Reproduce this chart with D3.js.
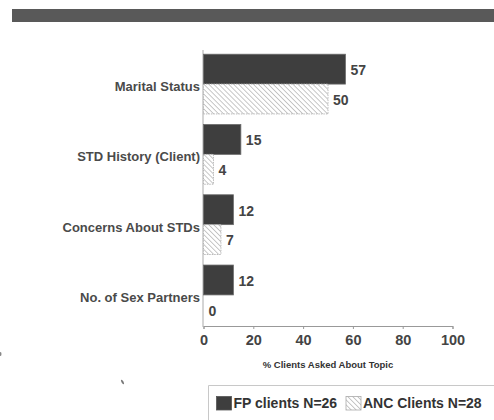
<!DOCTYPE html>
<html>
<head>
<meta charset="utf-8">
<script src="https://cdn.jsdelivr.net/npm/d3@7"></script>
<style>
  html, body { margin: 0; padding: 0; background: #fff; }
  svg { display: block; font-family: "Liberation Sans", Arial, sans-serif; }
</style>
</head>
<body>
<svg id="chart" width="494" height="420"></svg>
<script>
// topics asked about, top to bottom
const topics = ['Marital Status', 'STD History (Client)', 'Concerns About STDs', 'No. of Sex Partners'];
const seriesKeys = ['fp', 'anc'];
const seriesNames = ['FP clients N=26', 'ANC Clients N=28'];
const fpValues = [57, 15, 12, 12];
const ancValues = [50, 4, 7, 0];
const xTicks = [0, 20, 40, 60, 80, 100];

const rows = topics.map(function(t, i){
    return {topic: t, fp: fpValues[i], anc: ancValues[i]};
});

const svg = d3.select('#chart');

// dark header band
svg.append('rect')
    .attr('x', 12).attr('y', 9)
    .attr('width', 482).attr('height', 13)
    .attr('fill', '#595959');

const defs = svg.append('defs');
const hatch = defs.append('pattern')
    .attr('id', 'hatch')
    .attr('patternUnits', 'userSpaceOnUse')
    .attr('width', 3.5).attr('height', 3.5)
    .attr('patternTransform', 'rotate(-45)');
hatch.append('rect').attr('width', 3.5).attr('height', 3.5).attr('fill', '#fff');
hatch.append('line')
    .attr('x1', 0).attr('y1', 0).attr('x2', 0).attr('y2', 3.5)
    .attr('stroke', '#9a9a9a').attr('stroke-width', 1.1);

const x = d3.scaleLinear().domain([0, 100]).range([203.5, 452.5]);
const y = d3.scaleBand().domain(topics).range([50, 329]).paddingInner(0.15).paddingOuter(0.06);
const ySub = d3.scaleBand().domain(seriesKeys).range([0, y.bandwidth()]);

// y axis line
svg.append('line')
    .attr('x1', x(0) - 0.5).attr('x2', x(0) - 0.5)
    .attr('y1', 50).attr('y2', 327)
    .attr('stroke', '#aaa').attr('stroke-width', 1);

// x axis
const xAxis = d3.axisBottom(x).tickValues(xTicks).tickSize(3).tickPadding(6);
const gx = svg.append('g')
    .attr('transform', 'translate(0,' + 326 + ')')
    .call(xAxis);
gx.select('.domain').attr('stroke', '#999');
gx.selectAll('.tick line').attr('stroke', '#999');
gx.selectAll('.tick text')
    .attr('fill', '#444')
    .style('font-size', '14.5px')
    .style('font-weight', 'bold');

svg.append('text')
    .attr('x', (x(0) + x(100)) / 2)
    .attr('y', 368)
    .attr('text-anchor', 'middle')
    .attr('fill', '#333')
    .style('font-size', '9.5px')
    .style('font-weight', 'bold')
    .text('% Clients Asked About Topic');

// category labels
svg.selectAll('.cat')
    .data(topics)
    .enter()
    .append('text')
    .attr('class', 'cat')
    .attr('x', 200)
    .attr('y', function(d){ return y(d) + y.bandwidth() / 2 + 2.5; })
    .attr('dy', '0.35em')
    .attr('text-anchor', 'end')
    .attr('fill', '#4a4a4a')
    .style('font-size', '13px')
    .style('font-weight', 'bold')
    .text(function(d){ return d; });

// bars
const groups = svg.selectAll('.grp')
    .data(rows)
    .enter()
    .append('g')
    .attr('class', 'grp')
    .attr('transform', function(d){ return 'translate(0,' + y(d.topic) + ')'; });

groups.selectAll('rect')
    .data(function(d){ return seriesKeys.map(function(k){ return {key: k, value: d[k]}; }); })
    .enter()
    .append('rect')
    .attr('x', x(0))
    .attr('y', function(d){ return ySub(d.key); })
    .attr('width', function(d){ return x(d.value) - x(0); })
    .attr('height', ySub.bandwidth())
    .attr('fill', function(d){ return d.key === 'fp' ? '#3e3e3e' : 'url(#hatch)'; })
    .attr('stroke', function(d){ return d.key === 'fp' ? '#6a6a6a' : '#aaa'; })
    .attr('stroke-width', 0.8)
    .attr('stroke-dasharray', function(d){ return d.key === 'fp' ? null : '1.5,1'; })
    .style('display', function(d){ return d.value === 0 ? 'none' : null; });

groups.selectAll('text')
    .data(function(d){ return seriesKeys.map(function(k){ return {key: k, value: d[k]}; }); })
    .enter()
    .append('text')
    .attr('x', function(d){ return x(d.value) + 5; })
    .attr('y', function(d){ return ySub(d.key) + ySub.bandwidth() / 2 + 1; })
    .attr('dy', '0.35em')
    .attr('fill', '#444')
    .style('font-size', '14px')
    .style('font-weight', 'bold')
    .text(function(d){ return d.value; });

// legend
const leg = svg.append('g');
leg.append('path')
    .attr('d', 'M208.5,420 V385.5 H494')
    .attr('fill', 'none')
    .attr('stroke', '#c8c8c8');
const legX = [216.5, 346];
seriesKeys.forEach(function(k, i){
    leg.append('rect')
        .attr('x', legX[i]).attr('y', 396.5)
        .attr('width', 15).attr('height', 13.5)
        .attr('fill', k === 'fp' ? '#3e3e3e' : 'url(#hatch)')
        .attr('stroke', k === 'fp' ? '#555' : '#aaa')
        .attr('stroke-width', 0.8);
    leg.append('text')
        .attr('x', legX[i] + 17)
        .attr('y', 403.5)
        .attr('dy', '0.35em')
        .attr('fill', '#333')
        .style('font-size', '14px')
        .style('font-weight', 'bold')
        .text(seriesNames[i]);
});

// scan specks
svg.append('ellipse').attr('cx', 122.5).attr('cy', 382).attr('rx', 1).attr('ry', 2.5)
    .attr('transform', 'rotate(-30,122.5,382)').attr('fill', '#777');
svg.append('ellipse').attr('cx', 0.5).attr('cy', 354).attr('rx', 1).attr('ry', 2)
    .attr('fill', '#888');
</script>
</body>
</html>
